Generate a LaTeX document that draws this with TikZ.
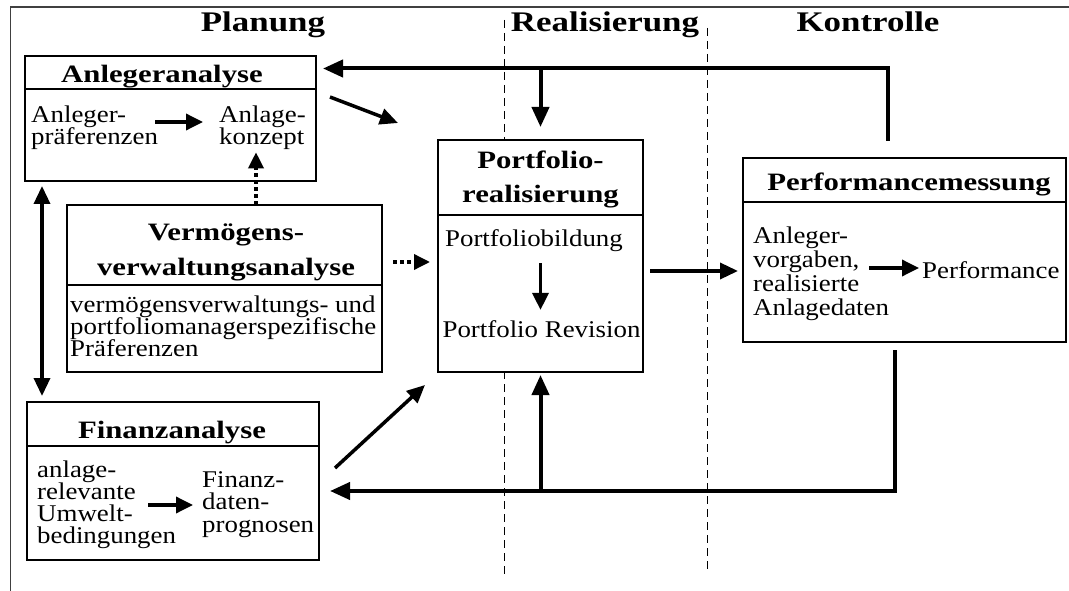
\documentclass[tikz,border=0pt]{standalone}
\usepackage{fontspec}
\setmainfont{Liberation Serif}[FakeStretch=1.12]
\newfontfamily\boldfam{Liberation Serif}[FakeStretch=1.23]
\usetikzlibrary{arrows.meta}

% fonts: body text, box titles, phase headings
\newcommand\txtsp[1]{\fontsize{24}{#1}\selectfont\lineskiplimit=-100pt\relax}
\newcommand\ttlfnt{\boldfam\bfseries\fontsize{25}{35}\selectfont\lineskiplimit=-100pt\relax}
\newcommand\hdfnt{\boldfam\bfseries\fontsize{28.4}{34}\selectfont}

\begin{document}
\begin{tikzpicture}[x=1pt,y=-1pt,
  frame/.style={line width=1.2pt, black!75},
  phasesep/.style={line width=1pt, dash pattern=on 8pt off 5pt},
  box/.style={draw, line width=2pt, fill=white, inner sep=0pt, outer sep=0pt},
  divider/.style={line width=2.5pt},
  heading/.style={font=\hdfnt, inner sep=0pt, anchor=base},
  title/.style={font=\ttlfnt, inner sep=0pt, align=center, anchor=base},
  txt/.style={font=\txtsp{22}, inner sep=0pt, align=left, anchor=base west},
  fb/.style={line width=4pt, -{Triangle[length=20pt,width=17pt]}},
  flow/.style={line width=3.5pt, -{Triangle[length=18pt,width=16pt]}},
  both/.style={line width=3.5pt, {Triangle[length=18pt,width=16pt]}-{Triangle[length=18pt,width=16pt]}},
  dotflow/.style={line width=3.5pt, dash pattern=on 4pt off 3pt, -{Triangle[length=16pt,width=15pt]}},
  sm/.style={line width=3.5pt, -{Triangle[length=17pt,width=16pt]}}
]
\useasboundingbox (0,0) rectangle (1069,591);
\fill[white] (0,0) rectangle (1069,591);

% outer frame (top and left edges)
\draw[frame] (10.5,591) -- (10.5,7) -- (1069,7);

% phase separators
\draw[phasesep] (504,20) -- (504,575);
\draw[phasesep] (707,28) -- (707,572);

% phase headings
\node[heading] (hPlan) at (263,31.5) {Planung};
\node[heading] (hReal) at (605,31.5) {Realisierung};
\node[heading] (hKontr) at (868,31.5) {Kontrolle};

% boxes
\node[box, minimum width=291pt, minimum height=125pt] (A) at (170.5,118.5) {};
\draw[divider] ([yshift=-33pt]A.north west) -- ([yshift=-33pt]A.north east);
\node[box, minimum width=315pt, minimum height=167pt] (V) at (224.5,288.5) {};
\draw[divider] ([yshift=-80pt]V.north west) -- ([yshift=-80pt]V.north east);
\node[box, minimum width=292pt, minimum height=158pt] (F) at (173,481) {};
\draw[divider] ([yshift=-44pt]F.north west) -- ([yshift=-44pt]F.north east);
\node[box, minimum width=205pt, minimum height=232pt] (P) at (540.5,256) {};
\draw[divider] ([yshift=-75pt]P.north west) -- ([yshift=-75pt]P.north east);
\node[box, minimum width=323pt, minimum height=184pt] (M) at (904.5,250) {};
\draw[divider] ([yshift=-44pt]M.north west) -- ([yshift=-44pt]M.north east);

% box titles (multi-line nodes sit on the baseline of their last line)
\node[title] (tA) at (162,83) {Anlegeranalyse};
\node[title] (tV) at (226,275) {Verm\"ogens-\\verwaltungsanalyse};
\node[title] (tF) at (172,438) {Finanzanalyse};
\node[title] (tP) at (540.5,203) {Portfolio-\\realisierung};
\node[title] (tM) at (909,190) {Performancemessung};

% box contents
\node[txt] (al) at (31,145) {Anleger-\\pr\"aferenzen};
\node[txt] (ak) at (219,145) {Anlage-\\konzept};
\node[txt] (vt) at (70,356) {verm\"ogensverwaltungs- und\\portfoliomanagerspezifische\\Pr\"aferenzen};
\node[txt] (fl) at (37,543) {anlage-\\relevante\\Umwelt-\\bedingungen};
\node[txt, font=\txtsp{22.5}] (fr) at (202,532) {Finanz-\\daten-\\prognosen};
\node[txt, anchor=base] (pb) at (534,246) {Portfoliobildung};
\node[txt, anchor=base] (pr) at (541.5,337) {Portfolio Revision};
\node[txt, font=\txtsp{24}] (ml) at (753,315) {Anleger-\\vorgaben,\\realisierte\\Anlagedaten};
\node[txt] (mr) at (922,278) {Performance};

% arrows inside boxes
\draw[sm] ([shift={(-3,-23)}]al.base east) -- ([shift={(-16,-23)}]ak.base west);
\draw[sm] ([shift={(-28,-38)}]fl.base east) -- ([shift={(-9,-27)}]fr.base west);
\draw[sm] ([shift={(-20,-47)}]ml.base east) -- ([shift={(-3,-10)}]mr.base west);
\draw[sm, shorten <=12pt, shorten >=10pt] (pb.south -| P.north) -- (pr.north -| P.north);

% flows between the boxes
\draw[both] ([shift={(17,5)}]A.south west) -- ([shift={(15,-6)}]F.north west);
\draw[flow] ([shift={(14,41)}]A.north east) -- ([shift={(-40,-17)}]P.north west);
\draw[flow] ([shift={(16,66)}]F.north east) -- ([shift={(-13,13)}]P.south west);
\draw[dotflow, shorten >=2pt] ([xshift=31.5pt]V.north) -- ([xshift=31.5pt]V.north |- ak.south);
\draw[dotflow] ([shift={(11,-26.5)}]V.east) -- ([shift={(-8,6)}]P.west);
\draw[flow] ([shift={(7,15)}]P.east) -- ([shift={(-5,21)}]M.west);

% feedback loops from the control phase
\coordinate (fbA) at (888,141);
\coordinate (fbB) at (888,68.5);
\coordinate (fbC) at (895,350);
\coordinate (fbD) at (895,491);
\draw[fb, shorten >=7pt] (fbA) -- (fbB) -- (A.east |- fbB);
\draw[fb, shorten >=13pt] (P.north |- fbB) -- (P.north);
\draw[fb, shorten >=11pt] (fbC) -- (fbD) -- (F.east |- fbD);
\draw[fb, shorten >=3pt] (P.south |- fbD) -- (P.south);
\end{tikzpicture}
\end{document}
